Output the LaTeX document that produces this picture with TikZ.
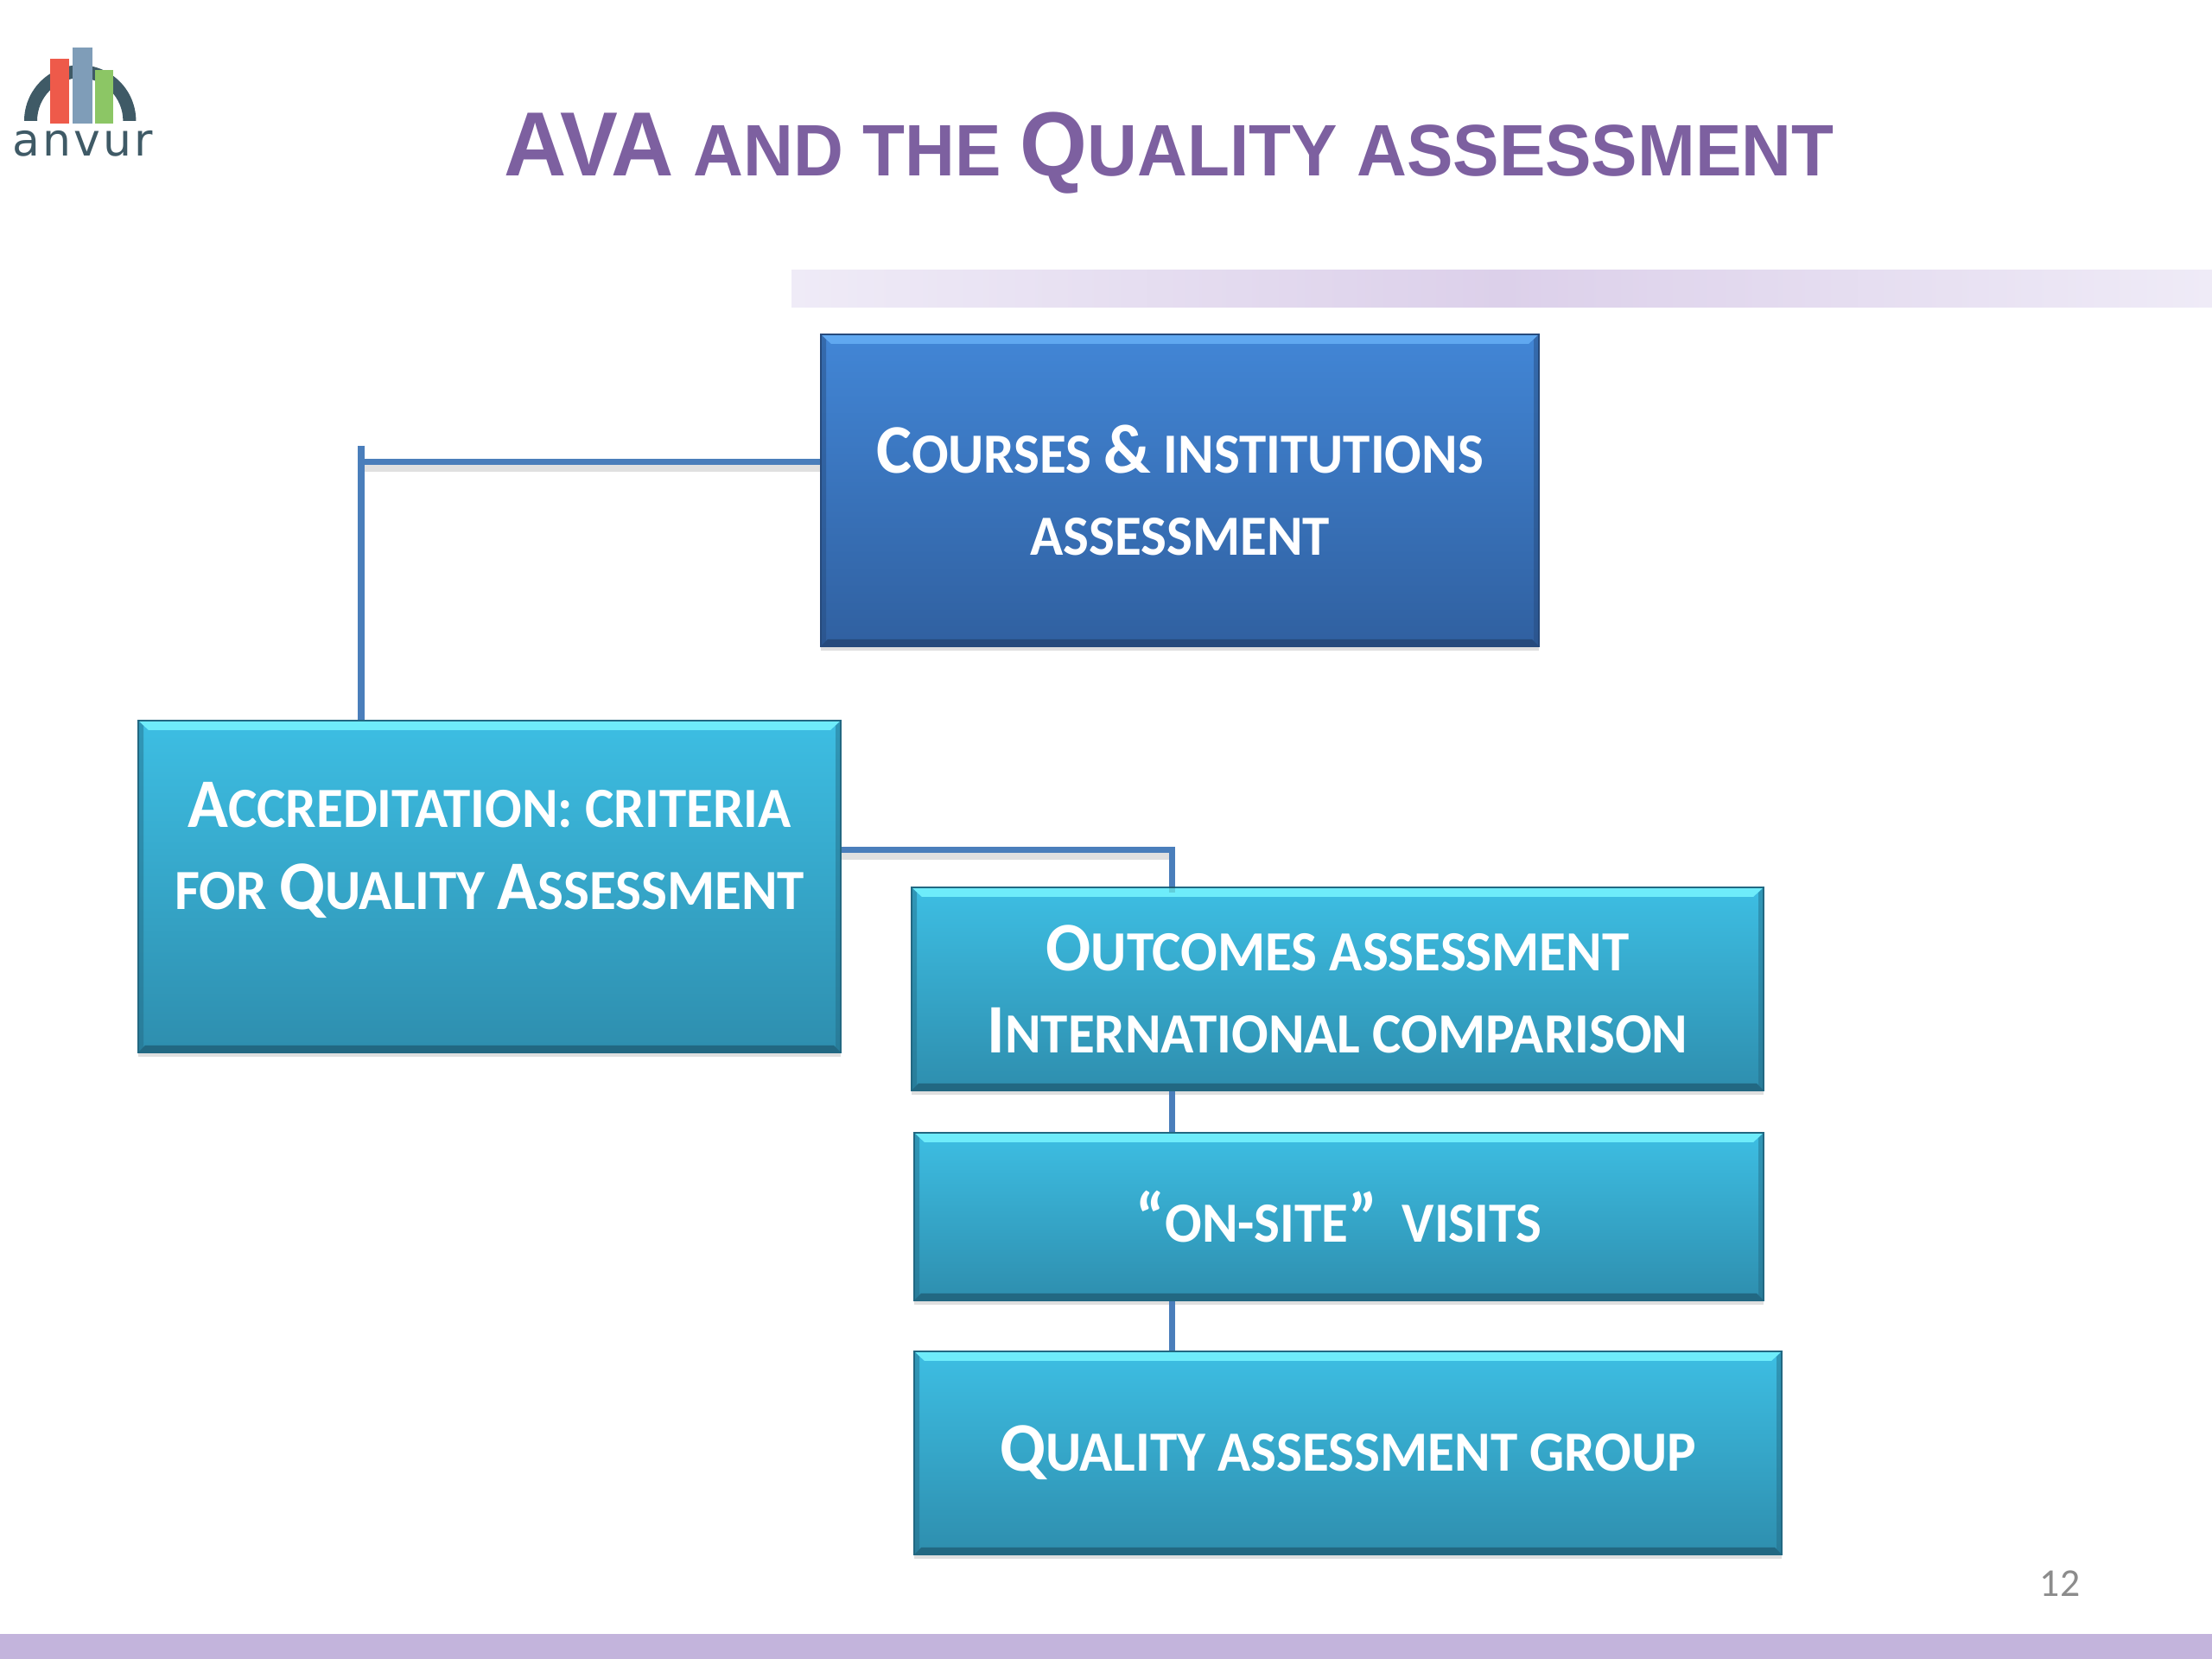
\documentclass[tikz,border=0pt]{standalone}
\usepackage{fontspec}
\setmainfont{Carlito}[FakeStretch=.96]
\newfontfamily\numfont{Carlito}
\newfontfamily\titlefont{Liberation Sans}[FakeStretch=.95]
\newfontfamily\logofont{DejaVu Sans}[LetterSpace=6]
\usetikzlibrary{shadows}

\definecolor{titlepurple}{HTML}{7D60A0}
\definecolor{footband}{HTML}{C3B4DC}
\definecolor{bandlight}{HTML}{EFEBF7}
\definecolor{bandmid}{HTML}{DCD0EA}
\definecolor{linkblue}{HTML}{4A7EBB}
\definecolor{logodark}{HTML}{3F5A66}
\definecolor{logored}{HTML}{EE5A4A}
\definecolor{logoblue}{HTML}{7F9DB8}
\definecolor{logogreen}{HTML}{8CC665}
\definecolor{bluetop}{HTML}{4286D6}
\definecolor{bluebot}{HTML}{3060A0}
\definecolor{bluelite}{HTML}{60A8F0}
\definecolor{bluedark}{HTML}{264A7C}
\definecolor{tealtop}{HTML}{3DBEE3}
\definecolor{tealbot}{HTML}{2E8EAE}
\definecolor{teallite}{HTML}{6EECFA}
\definecolor{tealdark}{HTML}{226882}

% large initials for the small capitals
\newcommand{\boxcap}[1]{{\fontsize{22.9}{27}\selectfont #1}}
\newcommand{\titlecap}[1]{{\fontsize{30}{28}\selectfont #1}}

\tikzset{
  bevel/.style 2 args={path picture={
    \fill[#1] (path picture bounding box.north west) -- (path picture bounding box.north east)
      -- ++(-.12,-.11) -- ([shift={(.12,-.11)}]path picture bounding box.north west) -- cycle;
    \fill[#2] (path picture bounding box.south west) -- (path picture bounding box.south east)
      -- ++(-.08,.08) -- ([shift={(.08,.08)}]path picture bounding box.south west) -- cycle;
    \fill[#2,opacity=.45] (path picture bounding box.north west) -- (path picture bounding box.south west)
      -- ++(.06,.06) -- ([shift={(.06,-.06)}]path picture bounding box.north west) -- cycle;
    \fill[#2,opacity=.45] (path picture bounding box.north east) -- (path picture bounding box.south east)
      -- ++(-.06,.06) -- ([shift={(-.06,-.06)}]path picture bounding box.north east) -- cycle;
  }},
  box/.style={rectangle,text=white,align=center,inner sep=0pt,line width=.3pt,
    font=\fontsize{18.7}{27}\selectfont\bfseries,
    drop shadow={shadow xshift=0pt,shadow yshift=-.05cm,opacity=.25}},
  bluebox/.style={box,draw=bluedark,top color=bluetop,bottom color=bluebot,bevel={bluelite}{bluedark}},
  tealbox/.style={box,draw=tealdark,top color=tealtop,bottom color=tealbot,bevel={teallite}{tealdark}},
  link/.style={draw=linkblue,line width=2pt},
  shadowlink/.style={link,preaction={draw=black,opacity=.12,line width=2pt,transform canvas={yshift=-2pt}}},
}

\begin{document}
\begin{tikzpicture}
\useasboundingbox (0,0) rectangle (25.6,19.2);
\fill[white] (0,0) rectangle (25.6,19.2);

% bands
\shade[left color=bandlight,right color=bandlight,middle color=bandmid] (9.16,15.64) rectangle (25.6,16.07);
\fill[footband] (0,0) rectangle (25.6,.29);

% logo
\fill[logodark] (.28,17.8) arc (180:0:.647) -- ++(-.15,0) arc (0:180:.497) -- cycle;
\fill[logored] (.58,17.77) rectangle (.80,18.52);
\fill[logoblue] (.84,17.77) rectangle (1.07,18.65);
\fill[logogreen] (1.10,17.77) rectangle (1.31,18.39);
\node[text=logodark,inner sep=0pt,font=\logofont\fontsize{14.8}{16}\selectfont] (logotext) at (.96,17.54) {anvur};

\node[text=titlepurple,inner sep=0pt,anchor=base,font=\titlefont\bfseries\fontsize{24}{28}\selectfont] (title) at (13.53,17.16)
  {\titlecap{AVA} AND THE \titlecap{Q}UALITY ASSESSMENT};

\coordinate (stub) at (4.18,14.04);
\coordinate (elbow) at (4.18,13.85);
\coordinate (trunk) at (13.56,9.36);

\node[bluebox,minimum width=8.31cm,minimum height=3.61cm] (courses) at (13.655,13.525) {\boxcap{C}OURSES \boxcap{\&} INSTITUTIONS\\ASSESSMENT};
\node[tealbox,minimum width=8.13cm,minimum height=3.84cm] (accr) at (5.665,8.94) {\boxcap{A}CCREDITATION: CRITERIA\\FOR \boxcap{Q}UALITY \boxcap{A}SSESSMENT\\\mbox{}};
\node[tealbox,minimum width=9.86cm,minimum height=2.35cm] (outcomes) at (15.48,7.755) {\boxcap{O}UTCOMES ASSESSMENT\\\boxcap{I}NTERNATIONAL COMPARISON};
\node[tealbox,minimum width=9.83cm,minimum height=1.94cm] (onsite) at (15.495,5.12) {\boxcap{“}ON-SITE\boxcap{”}\ \ VISITS};
\node[tealbox,minimum width=10.04cm,minimum height=2.35cm] (quality) at (15.6,2.385) {\boxcap{Q}UALITY ASSESSMENT GROUP};

\node[text=gray!90,inner sep=0pt,font=\numfont\fontsize{13}{15}\selectfont] (pagenum) at (23.84,.87) {12};

\draw[shadowlink] (courses.west |- elbow) -- (elbow);
\draw[link] (stub) -- (stub |- accr.north);
\draw[shadowlink] (accr.east |- trunk) -- (trunk) -- (trunk |- outcomes.north);
\draw[link] (trunk |- outcomes.south) -- (trunk |- onsite.north);
\draw[link] (trunk |- onsite.south) -- (trunk |- quality.north);
\end{tikzpicture}
\end{document}
